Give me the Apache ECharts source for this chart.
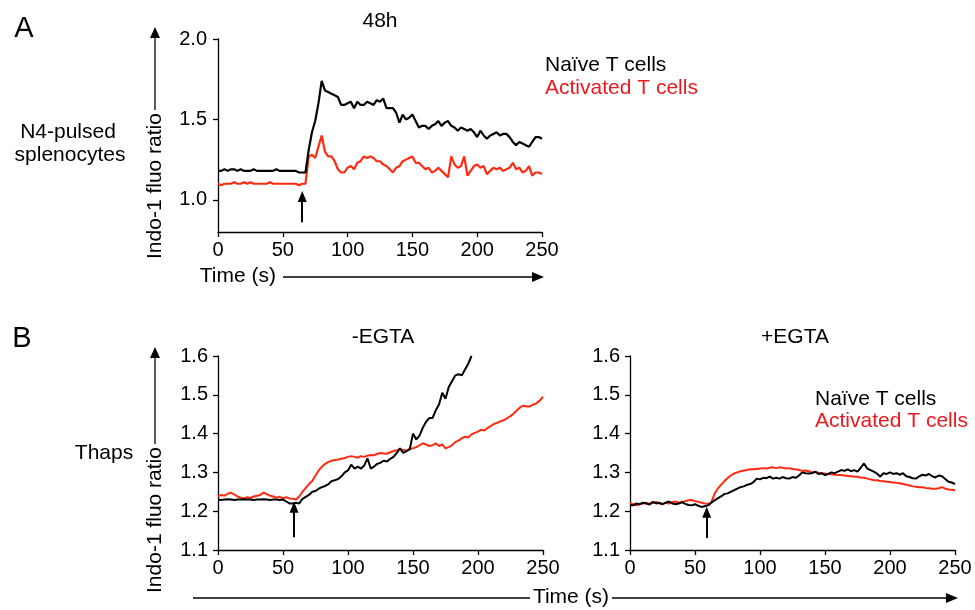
<!DOCTYPE html>
<html><head><meta charset="utf-8">
<script src="https://cdn.jsdelivr.net/npm/echarts@6/dist/echarts.min.js"></script>
<style>html,body{margin:0;padding:0;background:#fff}#c{width:975px;height:610px}</style>
</head><body><div id="c"></div>
<script>
// ---- data (sampled every 2.5 s) ----
const sampleStep = 2.5;
const xTicks = [0, 50, 100, 150, 200, 250];
const yTicksA = [1.0, 1.5, 2.0];
const yTicksB = [1.1, 1.2, 1.3, 1.4, 1.5, 1.6];
const seriesNames = ['Naïve T cells', 'Activated T cells'];

// Panel A: N4-pulsed splenocytes, 48h
const naiveA = [1.18,1.18,1.19,1.18,1.19,1.19,1.18,1.19,1.18,1.18,
 1.18,1.19,1.18,1.18,1.18,1.18,1.18,1.18,1.19,1.18,
 1.18,1.18,1.18,1.18,1.18,1.17,1.17,1.17,1.31,1.42,
 1.49,1.60,1.74,1.68,1.67,1.66,1.65,1.64,1.59,1.59,
 1.60,1.61,1.57,1.61,1.59,1.59,1.61,1.60,1.59,1.62,
 1.61,1.63,1.57,1.57,1.57,1.54,1.48,1.53,1.50,1.51,
 1.53,1.49,1.45,1.46,1.46,1.44,1.46,1.47,1.49,1.46,
 1.48,1.49,1.46,1.45,1.43,1.45,1.44,1.43,1.44,1.42,
 1.39,1.43,1.40,1.38,1.40,1.41,1.42,1.40,1.41,1.41,
 1.39,1.36,1.34,1.36,1.35,1.34,1.33,1.36,1.39,1.39,
 1.38];
const activatedA = [1.10,1.09,1.10,1.10,1.10,1.11,1.10,1.10,1.11,1.10,
 1.11,1.10,1.10,1.10,1.10,1.10,1.11,1.10,1.10,1.10,
 1.10,1.10,1.10,1.10,1.10,1.09,1.10,1.10,1.27,1.28,
 1.26,1.33,1.40,1.30,1.27,1.27,1.24,1.19,1.17,1.17,
 1.20,1.21,1.19,1.23,1.24,1.27,1.26,1.27,1.26,1.24,
 1.24,1.22,1.21,1.19,1.17,1.20,1.21,1.24,1.25,1.26,
 1.27,1.23,1.23,1.21,1.19,1.20,1.17,1.18,1.20,1.18,
 1.16,1.14,1.27,1.22,1.20,1.21,1.27,1.15,1.18,1.21,
 1.22,1.20,1.21,1.16,1.18,1.20,1.19,1.20,1.18,1.19,
 1.20,1.23,1.19,1.20,1.17,1.18,1.21,1.15,1.17,1.17,
 1.16];

// Panel B left: Thaps, -EGTA
const naiveBminus = [1.23,1.229,1.23,1.231,1.23,1.229,1.23,1.23,1.231,1.23,
 1.23,1.229,1.23,1.23,1.231,1.23,1.229,1.23,1.23,1.229,
 1.23,1.225,1.22,1.22,1.222,1.22,1.232,1.237,1.242,1.25,
 1.252,1.258,1.262,1.265,1.27,1.278,1.28,1.283,1.29,1.30,
 1.305,1.32,1.31,1.315,1.31,1.318,1.336,1.31,1.315,1.322,
 1.325,1.33,1.328,1.335,1.34,1.35,1.362,1.35,1.355,1.36,
 1.40,1.385,1.395,1.415,1.43,1.44,1.44,1.46,1.475,1.505,
 1.49,1.52,1.535,1.55,1.553,1.55,1.565,1.58,1.60];
const activatedBminus = [1.238,1.242,1.24,1.245,1.248,1.243,1.238,1.235,1.233,1.236,
 1.234,1.238,1.24,1.242,1.248,1.244,1.24,1.238,1.235,1.237,
 1.233,1.236,1.233,1.232,1.23,1.238,1.25,1.26,1.27,1.278,
 1.292,1.305,1.315,1.322,1.327,1.33,1.332,1.333,1.335,1.337,
 1.34,1.342,1.34,1.338,1.342,1.34,1.343,1.345,1.344,1.348,
 1.35,1.349,1.348,1.352,1.355,1.357,1.36,1.358,1.356,1.36,
 1.362,1.365,1.37,1.375,1.372,1.368,1.37,1.375,1.368,1.372,
 1.362,1.365,1.37,1.378,1.382,1.388,1.392,1.39,1.398,1.402,
 1.405,1.41,1.408,1.415,1.42,1.425,1.428,1.432,1.435,1.44,
 1.445,1.452,1.46,1.468,1.472,1.47,1.47,1.475,1.478,1.485,
 1.495];

// Panel B right: Thaps, +EGTA
const naiveBplus = [1.216,1.215,1.22,1.218,1.222,1.22,1.217,1.224,1.22,1.222,
 1.218,1.222,1.225,1.22,1.218,1.22,1.223,1.219,1.216,1.215,
 1.218,1.214,1.211,1.213,1.215,1.222,1.228,1.233,1.238,1.244,
 1.246,1.25,1.254,1.258,1.262,1.264,1.268,1.27,1.275,1.284,
 1.282,1.286,1.285,1.289,1.284,1.286,1.284,1.288,1.285,1.284,
 1.288,1.286,1.292,1.30,1.298,1.297,1.298,1.302,1.296,1.298,
 1.293,1.296,1.30,1.298,1.302,1.306,1.304,1.308,1.303,1.306,
 1.302,1.312,1.323,1.31,1.306,1.302,1.297,1.289,1.298,1.296,
 1.30,1.296,1.298,1.294,1.298,1.29,1.288,1.285,1.284,1.29,
 1.294,1.292,1.296,1.29,1.287,1.292,1.29,1.283,1.276,1.274,
 1.27];
const activatedBplus = [1.22,1.218,1.215,1.218,1.22,1.222,1.219,1.221,1.224,1.22,
 1.218,1.222,1.22,1.223,1.225,1.222,1.224,1.226,1.228,1.229,
 1.226,1.224,1.222,1.22,1.219,1.222,1.245,1.258,1.268,1.277,
 1.285,1.292,1.297,1.30,1.303,1.305,1.306,1.308,1.308,1.309,
 1.31,1.311,1.31,1.312,1.313,1.311,1.313,1.312,1.31,1.311,
 1.309,1.308,1.306,1.304,1.305,1.303,1.30,1.301,1.299,1.297,
 1.297,1.296,1.295,1.294,1.293,1.293,1.292,1.291,1.29,1.289,
 1.289,1.287,1.286,1.284,1.282,1.28,1.28,1.278,1.277,1.276,
 1.275,1.274,1.273,1.272,1.27,1.268,1.266,1.264,1.263,1.262,
 1.262,1.26,1.259,1.258,1.258,1.259,1.262,1.258,1.256,1.255,
 1.254];

// stimulation time (arrows) per panel: [time, arrowBottom, arrowTop]
const stimA = [65, 0.86, 1.02];
const stimBminus = [58.5, 1.133, 1.21];
const stimBplus = [59, 1.131, 1.197];

// ---- chart ----
const FONT = '"Liberation Sans", Arial, sans-serif';
const BLACK = '#000000';
const RED_LINE = '#ff2a10';
const RED_TEXT = '#ea1a1f';
const toPairs = vals => vals.map((v, i) => [i * sampleStep, v]);

function xAxis(gi) {
  return {
    type: 'value', gridIndex: gi, min: xTicks[0], max: xTicks[xTicks.length - 1],
    interval: xTicks[1] - xTicks[0],
    axisLine: {show: true, onZero: false, lineStyle: {color: BLACK, width: 1.3}},
    axisTick: {show: true, length: 5, lineStyle: {color: BLACK, width: 1.3}},
    axisLabel: {color: BLACK, fontSize: 20, fontFamily: FONT, margin: 8, showMinLabel: true, showMaxLabel: true},
    splitLine: {show: false}
  };
}
function yAxisB(gi) {
  return {
    type: 'value', gridIndex: gi, min: yTicksB[0], max: yTicksB[yTicksB.length - 1], interval: 0.1,
    axisLine: {show: true, onZero: false, lineStyle: {color: BLACK, width: 1.3}},
    axisTick: {show: true, length: 5, lineStyle: {color: BLACK, width: 1.3}},
    axisLabel: {color: BLACK, fontSize: 20, fontFamily: FONT, margin: 10, showMinLabel: true, showMaxLabel: true,
      formatter: v => v.toFixed(1)},
    splitLine: {show: false}
  };
}
function stimMark(s) {
  return {
    silent: true, symbol: ['none', 'triangle'], symbolSize: [9, 11],
    label: {show: false},
    lineStyle: {color: BLACK, width: 2, type: 'solid'},
    data: [[{coord: [s[0], s[1]]}, {coord: [s[0], s[2]]}]]
  };
}
function line(name, vals, color, xi, width, mark) {
  const o = {
    name, type: 'line', xAxisIndex: xi, yAxisIndex: xi, data: toPairs(vals),
    showSymbol: false, symbol: 'none', animation: false,
    lineStyle: {color, width}, itemStyle: {color}, z: color === BLACK ? 3 : 2
  };
  if (mark) o.markLine = mark;
  return o;
}

function txt(x, y, text, opt) {
  opt = opt || {};
  return {
    type: 'text', x, y, rotation: opt.rot || 0, silent: true,
    style: {text, fill: opt.color || BLACK, font: (opt.size || 21) + 'px ' + FONT,
      textAlign: opt.align || 'center', textVerticalAlign: 'middle'}
  };
}
function hline(x1, x2, y) {
  return {type: 'line', silent: true, shape: {x1, y1: y, x2, y2: y}, style: {stroke: BLACK, lineWidth: 1.3}};
}
function vline(x, y1, y2) {
  return {type: 'line', silent: true, shape: {x1: x, y1, x2: x, y2}, style: {stroke: BLACK, lineWidth: 1.3}};
}
function tri(points) {
  return {type: 'polygon', silent: true, shape: {points}, style: {fill: BLACK}};
}

const chart = echarts.init(document.getElementById('c'), null, {renderer: 'canvas'});
chart.setOption({
  animation: false,
  backgroundColor: '#fff',
  grid: [
    {left: 218, top: 39, width: 324, height: 193},
    {left: 218, top: 356, width: 325, height: 194},
    {left: 630, top: 356, width: 325, height: 194}
  ],
  xAxis: [xAxis(0), xAxis(1), xAxis(2)],
  yAxis: [
    {
      type: 'value', gridIndex: 0, min: 0.8, max: 2.0,
      axisLine: {show: true, onZero: false, lineStyle: {color: BLACK, width: 1.3}},
      axisTick: {show: true, length: 5, customValues: yTicksA, lineStyle: {color: BLACK, width: 1.3}},
      axisLabel: {color: BLACK, fontSize: 20, fontFamily: FONT, margin: 11, customValues: yTicksA,
        formatter: v => v.toFixed(1)},
      splitLine: {show: false}
    },
    yAxisB(1), yAxisB(2)
  ],
  series: [
    line(seriesNames[1], activatedA, RED_LINE, 0, 2.2),
    line(seriesNames[0], naiveA, BLACK, 0, 2.2, stimMark(stimA)),
    line(seriesNames[1], activatedBminus, RED_LINE, 1, 2),
    line(seriesNames[0], naiveBminus, BLACK, 1, 2, stimMark(stimBminus)),
    line(seriesNames[1], activatedBplus, RED_LINE, 2, 2),
    line(seriesNames[0], naiveBplus, BLACK, 2, 2, stimMark(stimBplus))
  ],
  graphic: [
    txt(24, 29, 'A', {size: 29}),
    txt(22, 339, 'B', {size: 29}),
    txt(380, 21, '48h'),
    txt(383, 337, '-EGTA'),
    txt(795, 337, '+EGTA'),
    txt(68, 132, 'N4-pulsed'),
    txt(70, 155, 'splenocytes'),
    txt(104, 453, 'Thaps'),
    txt(545, 65, seriesNames[0], {align: 'left'}),
    txt(545, 88, seriesNames[1], {align: 'left', color: RED_TEXT}),
    txt(815, 399, seriesNames[0], {align: 'left'}),
    txt(815, 421, seriesNames[1], {align: 'left', color: RED_TEXT}),
    // y axis names with arrows
    txt(155, 186, 'Indo-1 fluo ratio', {rot: Math.PI / 2}),
    vline(155, 110, 37), tri([[150, 38], [160, 38], [155, 27]]),
    txt(155, 520, 'Indo-1 fluo ratio', {rot: Math.PI / 2}),
    vline(155, 444, 357), tri([[150, 358], [160, 358], [155, 347]]),
    // x axis names with arrows
    txt(276, 276, 'Time (s)', {align: 'right'}),
    hline(283, 533, 277), tri([[532, 272], [532, 282], [544, 277]]),
    hline(193, 530, 598),
    txt(571, 597, 'Time (s)'),
    hline(612, 947, 598), tri([[946, 593], [946, 603], [958, 598]])
  ]
});
</script>
</body></html>
